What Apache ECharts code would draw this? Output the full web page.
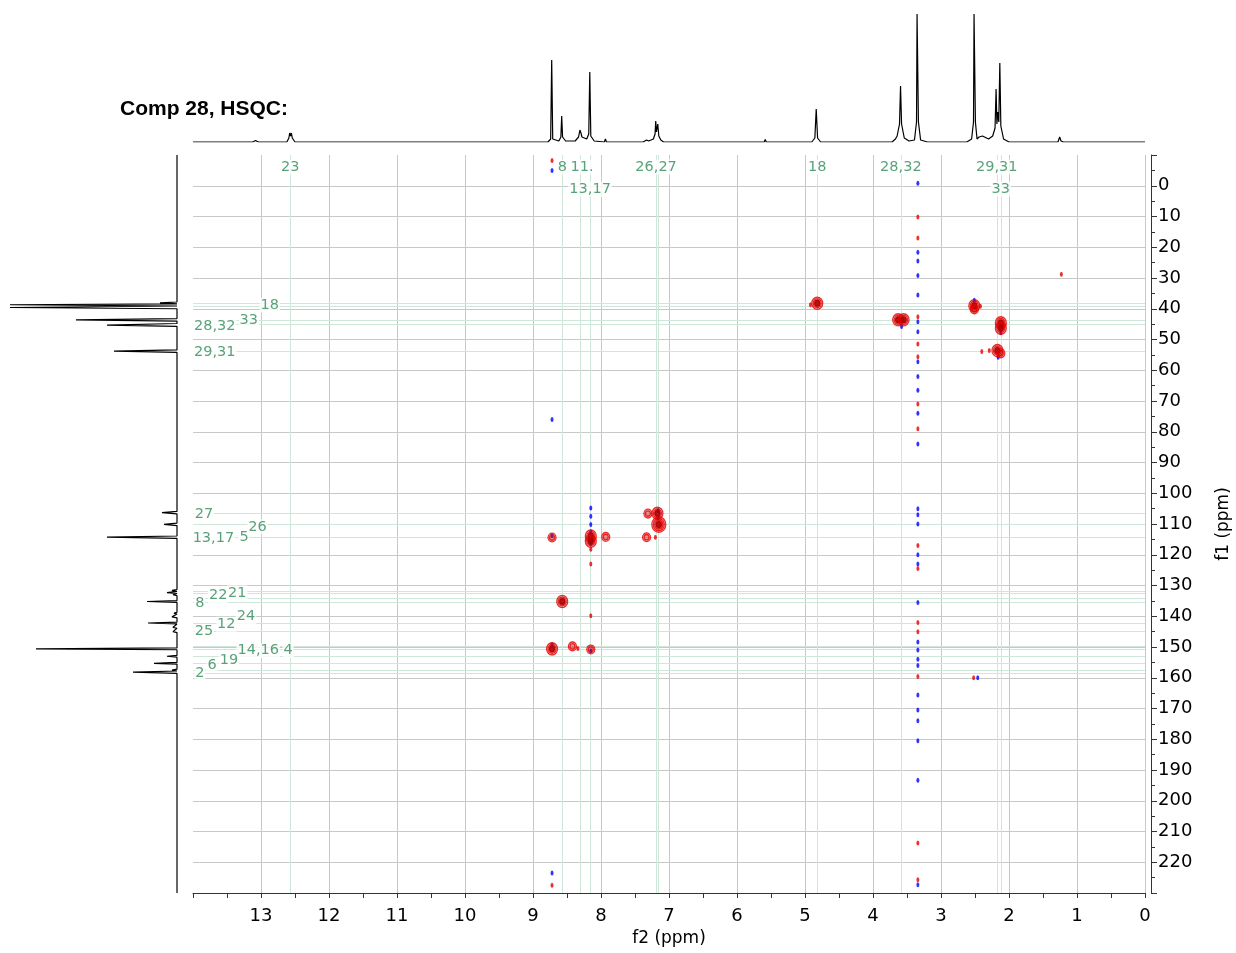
<!DOCTYPE html>
<html>
<head>
    <meta charset="utf-8">
    <title>Comp 28, HSQC</title>
    <script src="https://cdn.jsdelivr.net/npm/echarts/dist/echarts.min.js"></script>
</head>
<body style="margin:0;background:#fff">
    <div id="main" style="width:1236px;height:953px;"></div>
    <script type="text/javascript">
        // 1H trace on top: [ppm, intensity]
        var protonTrace = [
            [14.0, 0], [13.12, 0], [13.08, 1.5], [13.04, 0],
            [12.62, 0], [12.59, 4], [12.578, 9], [12.565, 6], [12.553, 9], [12.54, 4], [12.5, 0],
            [10.12, 0], [10.1, 1.5], [10.08, 0],
            [8.78, 0], [8.74, 3], [8.725, 82], [8.71, 3], [8.62, 1], [8.59, 5], [8.578, 26], [8.565, 5], [8.52, 1],
            [8.38, 1], [8.33, 5], [8.31, 12], [8.295, 9], [8.28, 5], [8.21, 3], [8.18, 8], [8.165, 70], [8.15, 6], [8.1, 1],
            [7.95, 0], [7.935, 3], [7.92, 0],
            [7.38, 0], [7.33, 2], [7.3, 1], [7.23, 3], [7.205, 8], [7.195, 21], [7.185, 10], [7.175, 12], [7.165, 18], [7.15, 6], [7.12, 2], [7.08, 0],
            [5.6, 0], [5.585, 2.5], [5.57, 0],
            [4.9, 0], [4.855, 4], [4.835, 33], [4.815, 4], [4.77, 0],
            [3.72, 0], [3.67, 3], [3.645, 6], [3.63, 4], [3.61, 18], [3.595, 56], [3.58, 18], [3.54, 4], [3.47, 1],
            [3.39, 2], [3.36, 20], [3.352, 128], [3.34, 128], [3.332, 20], [3.3, 2], [3.2, 0],
            [2.62, 0], [2.55, 3], [2.522, 20], [2.514, 128], [2.502, 128], [2.494, 20], [2.47, 3], [2.44, 5], [2.42, 3], [2.39, 6], [2.37, 4],
            [2.3, 3], [2.24, 6], [2.205, 14], [2.19, 53], [2.178, 18], [2.165, 30], [2.15, 20], [2.135, 79], [2.12, 16], [2.08, 3], [2.0, 0],
            [1.28, 0], [1.255, 5], [1.235, 1], [1.2, 0],
            [1.1, 0], [1.085, 2], [1.07, 0], [0.9, 0], [0.88, 1], [0.86, 0], [0.0, 0]
        ];

        // 13C trace on the left: [intensity, ppm]
        var carbonTrace = [
            [0, -10], [0, 28.2], [2, 28.6], [0, 29.0],
            [0, 37.8], [17, 38.1], [0, 38.4], [167, 38.7], [0, 39.1], [167, 39.6], [0, 40.0],
            [0, 43.2], [101, 43.6], [0, 44.0], [0, 44.8], [70, 45.3], [0, 45.7],
            [0, 53.4], [63, 53.8], [0, 54.2],
            [0, 105.9], [15, 106.3], [0, 106.7], [0, 109.7], [13, 110.1], [0, 110.5],
            [0, 113.9], [70, 114.3], [0, 114.7],
            [0, 131.3], [5, 131.6], [0, 131.9], [10, 132.3], [0, 132.6], [4, 133.0], [0, 133.3],
            [0, 134.9], [30, 135.2], [0, 135.5],
            [0, 138.7], [3, 139.0], [0, 139.3], [5, 140.2], [0, 140.5],
            [0, 141.9], [29, 142.2], [0, 142.5], [4, 143.6], [0, 143.9], [4, 145.0], [0, 145.3],
            [0, 150.3], [141, 150.6], [0, 150.9],
            [0, 152.7], [10, 153.0], [0, 153.3], [0, 155.0], [23, 155.3], [0, 155.6],
            [0, 157.2], [5, 157.5], [0, 157.8], [44, 158.2], [0, 158.6],
            [0, 230]
        ];

        // positive (red) cross peaks: f2, f1, contour levels
        var posF2 = [4.82, 4.92, 3.63, 3.55, 2.51, 2.51, 2.42, 2.12, 2.12, 2.17, 2.12, 2.29, 2.4, 1.23,
            8.72, 8.15, 8.15, 7.93, 7.33, 7.2, 7.17, 7.31, 7.15, 8.57, 8.15,
            8.72, 8.42, 8.34, 8.15, 2.52, 8.72, 8.72, 8.15, 8.15,
            3.34, 3.34, 3.34, 3.34, 3.34, 3.34, 3.34, 3.34, 3.34, 3.34, 3.34, 3.34, 3.34, 3.34];
        var posF1 = [38.2, 38.7, 43.6, 43.6, 39.0, 40.2, 39.2, 44.6, 46.3, 53.6, 54.5, 53.6, 53.9, 28.8,
            114.4, 113.9, 115.6, 114.2, 114.3, 114.3, 106.5, 106.6, 110.2, 135.2, 139.8,
            150.6, 149.8, 150.5, 150.8, 160.0, 227.5, -8.2, 118.2, 123.0,
            10.2, 17.0, 42.6, 51.5, 55.6, 71.0, 79.0, 117.0, 124.5, 142.0, 145.0, 159.6, 213.7, 225.7];
        var posLvl = [3, 1, 3, 3, 3, 2, 1, 3, 3, 3, 2, 1, 1, 1,
            2, 3, 3, 2, 2, 1, 3, 2, 4, 3, 1,
            3, 2, 1, 2, 1, 1, 1, 1, 1,
            1, 1, 1, 1, 1, 1, 1, 1, 1, 1, 1, 1, 1, 1];

        // negative (blue) cross peaks
        var negF2 = [3.34, 3.34, 3.34, 3.34, 3.34, 3.34, 3.34, 3.34, 3.34, 3.34, 3.34, 3.34, 3.34, 3.34, 3.34,
            3.34, 3.34, 3.34, 3.34, 3.34, 3.34, 3.34, 3.34, 3.34, 3.34, 3.34, 3.34, 3.34,
            8.72, 8.72, 8.72, 8.72, 8.72, 8.15, 8.15, 8.15, 8.15, 8.15, 8.15, 7.16, 7.16, 3.58, 2.12, 2.16, 2.51, 2.46];
        var negF1 = [-0.8, 21.6, 24.5, 29.2, 35.5, 44.2, 47.5, 57.2, 62.0, 66.5, 74.0, 84.0, 105.0, 107.0, 110.0,
            120.0, 123.0, 135.5, 148.4, 151.0, 154.0, 156.0, 165.6, 170.5, 174.0, 180.5, 193.3, 227.3,
            -5.0, 76.0, 113.8, 149.2, 223.5, 104.8, 107.5, 110.2, 112.5, 116.5, 151.2, 105.6, 108.0, 45.8, 47.8, 55.8, 37.2, 160.0];

        // assignment cross-hairs
        var assignH = [12.57, 8.57, 8.3, 8.16, 7.19, 7.16, 4.82, 3.59, 2.18, 2.12];
        var assignC = [38.3, 39.3, 43.6, 45.2, 53.8, 106.5, 110.1, 114.3, 131.8, 132.5, 134.3, 135.3,
            142.2, 145.0, 149.6, 150.7, 153.0, 155.3, 157.5, 158.4];

        // assignment labels
        var topLabelText = ['23', '8', '11.', '13,17', '26,27', '18', '28,32', '29,31', '33'];
        var topLabelShift = [12.57, 8.57, 8.28, 8.16, 7.19, 4.82, 3.59, 2.18, 2.12];
        var sideLabelText = ['18', '33', '28,32', '29,31', '27', '26', '13,17', '5', '8', '22', '21',
            '25', '12', '24', '14,16', '4', '19', '6', '2'];
        var sideLabelShift = [38.3, 45.2, 43.6, 53.8, 106.5, 110.1, 114.3, 114.3, 135.3, 132.5, 131.8,
            145.0, 142.2, 139.8, 150.7, 150.7, 153.0, 155.3, 158.4];

        // label placement (layout only)
        var topLabelRow = [0, 0, 0, 1, 0, 0, 0, 0, 1];
        var topRowF1 = [-6.1, 1.1];
        var sideLabelX = [12.87, 13.18, 13.68, 13.68, 13.84, 13.05, 13.7, 13.25, 13.9, 13.63, 13.35,
            13.84, 13.51, 13.22, 13.04, 12.6, 13.47, 13.72, 13.9];
        var sideLabelY = [38.8, 43.7, 45.6, 54.1, 106.7, 110.9, 114.7, 114.2, 135.7, 133.3, 132.4,
            145.0, 142.6, 140.1, 151.2, 151.2, 154.2, 155.8, 158.6];

        var green = '#2e8b57';
        var font = 'DejaVu Sans';

        function contourItems(f2s, f1s, lvls, color, core, wash) {
            var items = [];
            for (var i = 0; i < f2s.length; i++) {
                var L = lvls ? lvls[i] : 1;
                var p = [f2s[i], f1s[i]];
                if (L <= 1) {
                    items.push({ value: p, symbolSize: [3, 5], itemStyle: { color: color } });
                    continue;
                }
                for (var k = L; k >= 1; k--) {
                    items.push({
                        value: p, symbolSize: [2 + 3 * k, 2 + 3.4 * k],
                        itemStyle: { color: wash, borderColor: color, borderWidth: 1.3 }
                    });
                }
                if (L >= 3) items.push({ value: p, symbolSize: [6, 7], itemStyle: { color: core } });
            }
            return items;
        }

        var assignLines = [];
        assignH.forEach(function (v) { assignLines.push({ xAxis: v }); });
        assignC.forEach(function (v) { assignLines.push({ yAxis: v }); });

        var labelData = [];
        topLabelText.forEach(function (t, i) {
            labelData.push({ value: [topLabelShift[i], topRowF1[topLabelRow[i]]], name: t });
        });
        sideLabelText.forEach(function (t, i) {
            labelData.push({ value: [sideLabelX[i], sideLabelY[i]], name: t });
        });

        var myChart = echarts.init(document.getElementById('main'));

        var option = {
            animation: false,
            backgroundColor: '#fff',
            textStyle: { fontFamily: font },
            graphic: [{
                type: 'text', left: 120, top: 99,
                style: { text: 'Comp 28, HSQC:', font: 'bold 21px "Liberation Sans"', fill: '#000' }
            }],
            grid: [
                { left: 193, top: 155, width: 952, height: 738, outerBoundsMode: 'none' },
                { left: 193, top: 8, width: 952, height: 134, outerBoundsMode: 'none' },
                { left: 5, top: 155, width: 172, height: 738, outerBoundsMode: 'none' }
            ],
            xAxis: [
                {
                    gridIndex: 0, type: 'value', min: 0, max: 14, interval: 1, inverse: true,
                    name: 'f2 (ppm)', nameLocation: 'middle', nameGap: 35,
                    nameTextStyle: { fontSize: 17, color: '#000', fontFamily: font },
                    axisLine: { show: true, onZero: false, lineStyle: { color: '#333', width: 1 } },
                    axisTick: { show: true, length: 5, lineStyle: { color: '#333' } },
                    minorTick: { show: true, splitNumber: 2, length: 5, lineStyle: { color: '#333' } },
                    axisLabel: { fontSize: 18, color: '#000', margin: 14, showMaxLabel: false, fontFamily: font },
                    splitLine: { show: true, showMaxLine: false, lineStyle: { color: '#c8c8c8', width: 1 } }
                },
                { gridIndex: 1, type: 'value', min: 0, max: 14, inverse: true, show: false },
                { gridIndex: 2, type: 'value', min: 0, max: 172, inverse: true, show: false }
            ],
            yAxis: [
                {
                    gridIndex: 0, type: 'value', min: -10, max: 230, interval: 10, inverse: true,
                    position: 'right', offset: 6,
                    name: 'f1 (ppm)', nameLocation: 'middle', nameGap: 64, nameRotate: 90,
                    nameTextStyle: { fontSize: 17, color: '#000', fontFamily: font },
                    axisLine: { show: true, onZero: false, lineStyle: { color: '#333', width: 1 } },
                    axisTick: { show: true, length: 6, lineStyle: { color: '#333' } },
                    minorTick: { show: true, splitNumber: 2, length: 4, lineStyle: { color: '#333' } },
                    axisLabel: { fontSize: 18, color: '#000', margin: 7, showMinLabel: false, showMaxLabel: false, fontFamily: font },
                    splitLine: { show: true, showMinLine: false, showMaxLine: false, lineStyle: { color: '#c8c8c8', width: 1 } }
                },
                { gridIndex: 1, type: 'value', min: 0, max: 134, show: false },
                { gridIndex: 2, type: 'value', min: -10, max: 230, inverse: true, show: false }
            ],
            series: [
                {
                    name: 'assign', type: 'scatter', xAxisIndex: 0, yAxisIndex: 0, data: [], z: 1,
                    markLine: {
                        z: 1, silent: true, symbol: 'none', label: { show: false },
                        lineStyle: { color: '#cfe7da', width: 1, type: 'solid' },
                        data: assignLines
                    }
                },
                {
                    name: 'negative', type: 'scatter', xAxisIndex: 0, yAxisIndex: 0, z: 3,
                    data: contourItems(negF2, negF1, null, '#0000ff', '#0000ff', 'rgba(0,0,255,0.3)')
                },
                {
                    name: 'positive', type: 'scatter', xAxisIndex: 0, yAxisIndex: 0, z: 4,
                    data: contourItems(posF2, posF1, posLvl, '#e60000', '#a80000', 'rgba(200,0,0,0.3)')
                },
                {
                    name: 'labels', type: 'scatter', xAxisIndex: 0, yAxisIndex: 0, z: 6,
                    symbolSize: 0, data: labelData,
                    label: {
                        show: true, position: 'inside', formatter: '{b}',
                        color: green, fontSize: 14.5, fontFamily: font,
                        backgroundColor: '#fff', padding: [0, 1]
                    }
                },
                {
                    name: '1H', type: 'line', xAxisIndex: 1, yAxisIndex: 1, data: protonTrace,
                    showSymbol: false, lineStyle: { color: '#000', width: 1.2 }
                },
                {
                    name: '13C', type: 'line', xAxisIndex: 2, yAxisIndex: 2, data: carbonTrace,
                    showSymbol: false, lineStyle: { color: '#000', width: 1.2 }
                }
            ]
        };

        myChart.setOption(option);
    </script>
</body>
</html>
